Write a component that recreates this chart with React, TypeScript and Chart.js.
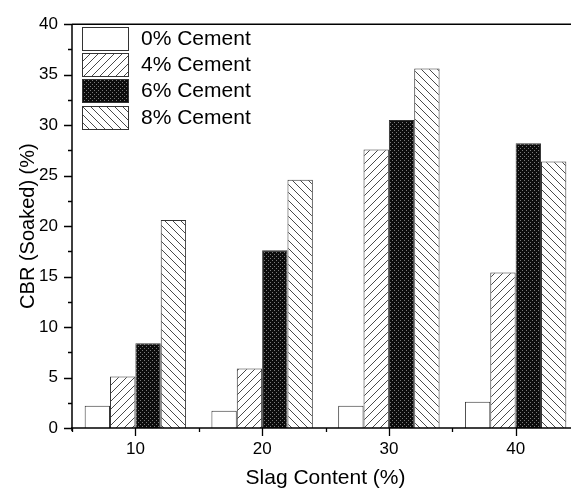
import React, { useEffect, useRef } from 'react';
import { Chart, registerables } from 'chart.js';

Chart.register(...registerables);

const CATEGORIES = ['10', '20', '30', '40'];
const SERIES_LABELS = ['0% Cement', '4% Cement', '6% Cement', '8% Cement'];
const CEMENT_0 = [2.2, 1.7, 2.2, 2.6];
const CEMENT_4 = [5.1, 5.9, 27.6, 15.4];
const CEMENT_6 = [8.4, 17.6, 30.5, 28.2];
const CEMENT_8 = [20.6, 24.6, 35.6, 26.4];
const Y_MIN = 0;
const Y_MAX = 40;
const Y_STEP = 5;
const Y_MINOR = 2.5;
const X_TITLE = 'Slag Content (%)';
const Y_TITLE = 'CBR (Soaked) (%)';

const FONT = "'Liberation Sans', Arial, sans-serif";

function makeTile(size: number, draw: (c: CanvasRenderingContext2D) => void): CanvasPattern | string {
  const cv = document.createElement('canvas');
  cv.width = size;
  cv.height = size;
  const c = cv.getContext('2d');
  if (!c) return '#fff';
  draw(c);
  const p = c.createPattern(cv, 'repeat');
  return p || '#fff';
}

function makePatterns() {
  const white = '#ffffff';
  const forward = makeTile(8, (c) => {
    c.fillStyle = '#fff';
    c.fillRect(0, 0, 8, 8);
    c.fillStyle = '#4a4a4a';
    for (let i = 0; i < 8; i++) c.fillRect(i, 7 - i, 1, 1);
  });
  const dots = makeTile(4, (c) => {
    c.fillStyle = '#0c0c0c';
    c.fillRect(0, 0, 4, 4);
    c.fillStyle = '#7a7a7a';
    c.fillRect(0, 0, 1, 1);
    c.fillRect(2, 2, 1, 1);
  });
  const back = makeTile(8, (c) => {
    c.fillStyle = '#fff';
    c.fillRect(0, 0, 8, 8);
    c.fillStyle = '#4a4a4a';
    for (let i = 0; i < 8; i++) c.fillRect(i, i, 1, 1);
  });
  return [white, forward, dots, back];
}

const framePlugin = {
  id: 'frame',
  afterDatasetsDraw(chart: any) {
    const { ctx, chartArea } = chart;
    const { left, top, bottom } = chartArea;
    const x = chart.scales.x;
    const y = chart.scales.y;
    ctx.save();
    ctx.strokeStyle = '#000';
    ctx.lineWidth = 1.5;
    ctx.beginPath();
    ctx.moveTo(left, top);
    ctx.lineTo(chart.width, top);
    ctx.moveTo(left, top);
    ctx.lineTo(left, bottom + 3);
    ctx.moveTo(left - 1, bottom);
    ctx.lineTo(chart.width, bottom);
    ctx.stroke();
    ctx.lineWidth = 1.3;
    ctx.beginPath();
    for (let v = Y_MIN; v <= Y_MAX + 1e-9; v += Y_MINOR) {
      const py = Math.round(y.getPixelForValue(v)) + 0.5;
      const major = Math.abs(v / Y_STEP - Math.round(v / Y_STEP)) < 1e-6;
      ctx.moveTo(left - (major ? 8 : 4), py);
      ctx.lineTo(left, py);
    }
    for (let i = 0; i < CATEGORIES.length; i++) {
      const px = Math.round(x.getPixelForValue(i)) + 0.5;
      ctx.moveTo(px, bottom);
      ctx.lineTo(px, bottom + 8);
    }
    for (let i = 0; i <= CATEGORIES.length; i++) {
      const px = Math.round(x.getPixelForValue(i - 0.5)) + 0.5;
      ctx.moveTo(px, bottom);
      ctx.lineTo(px, bottom + 4);
    }
    ctx.stroke();
    ctx.restore();
  },
};

const legendPlugin = {
  id: 'innerLegend',
  afterDraw(chart: any) {
    const { ctx } = chart;
    const boxX = 82;
    const boxTop = 27;
    const boxW = 46;
    const boxH = 23;
    const pitch = 26.2;
    const textX = 141;
    ctx.save();
    chart.data.datasets.forEach((ds: any, i: number) => {
      const yTop = Math.round(boxTop + i * pitch);
      ctx.fillStyle = ds.backgroundColor;
      ctx.fillRect(boxX, yTop, boxW, boxH);
      ctx.strokeStyle = '#333';
      ctx.lineWidth = 1;
      ctx.strokeRect(boxX + 0.5, yTop + 0.5, boxW, boxH);
      ctx.fillStyle = '#000';
      ctx.font = `21px ${FONT}`;
      ctx.textAlign = 'left';
      ctx.textBaseline = 'middle';
      ctx.fillText(ds.label, textX, yTop + boxH / 2 + 1);
    });
    ctx.restore();
  },
};

export default function App() {
  const ref = useRef<HTMLCanvasElement | null>(null);

  useEffect(() => {
    const canvas = ref.current;
    if (!canvas) return;
    const patterns = makePatterns();
    const seriesData = [CEMENT_0, CEMENT_4, CEMENT_6, CEMENT_8];
    const chart = new Chart(canvas, {
      type: 'bar',
      data: {
        labels: CATEGORIES,
        datasets: seriesData.map((d, i) => ({
          label: SERIES_LABELS[i],
          data: d,
          backgroundColor: patterns[i] as any,
          borderColor: '#333',
          borderWidth: 1,
          categoryPercentage: 0.8,
          barPercentage: 1.0,
        })),
      },
      options: {
        responsive: false,
        animation: false,
        devicePixelRatio: 1,
        layout: { padding: { left: 0, right: 11, top: 17, bottom: 0 } },
        plugins: {
          legend: { display: false },
          tooltip: { enabled: false },
        },
        scales: {
          x: {
            type: 'category',
            offset: true,
            grid: { display: false, drawTicks: false },
            border: { display: false },
            ticks: {
              padding: 11,
              color: '#000',
              font: { family: FONT, size: 17 },
              maxRotation: 0,
            },
            title: {
              display: true,
              text: X_TITLE,
              color: '#000',
              font: { family: FONT, size: 21 },
              padding: { top: 0, bottom: 5 },
            },
            afterFit: (scale: any) => {
              scale.height = 68;
            },
          },
          y: {
            min: Y_MIN,
            max: Y_MAX,
            grid: { display: false, drawTicks: false },
            border: { display: false },
            ticks: {
              stepSize: Y_STEP,
              padding: 14,
              color: '#000',
              font: { family: FONT, size: 17 },
            },
            title: {
              display: true,
              text: Y_TITLE,
              color: '#000',
              font: { family: FONT, size: 20 },
              padding: { top: 16, bottom: 0 },
            },
            afterFit: (scale: any) => {
              scale.width = 72;
            },
          },
        },
      },
      plugins: [framePlugin, legendPlugin],
    });
    return () => chart.destroy();
  }, []);

  return (
    <div
      style={{
        position: 'fixed',
        left: 0,
        top: 0,
        width: 571,
        height: 496,
        overflow: 'hidden',
        background: '#fff',
      }}
    >
      <canvas ref={ref} width={590} height={496} style={{ width: 590, height: 496, display: 'block' }} />
    </div>
  );
}
